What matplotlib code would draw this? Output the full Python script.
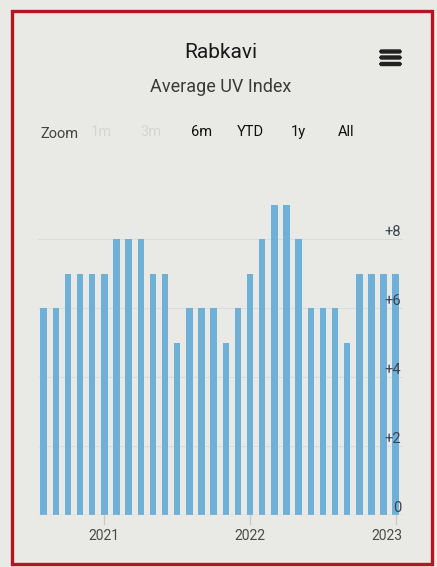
import matplotlib
matplotlib.use("Agg")
import matplotlib.pyplot as plt
from matplotlib.patches import Rectangle, FancyBboxPatch
from matplotlib.transforms import offset_copy, blended_transform_factory

# ---- data ----
months = ["2020-08", "2020-09", "2020-10", "2020-11", "2020-12",
          "2021-01", "2021-02", "2021-03", "2021-04", "2021-05", "2021-06",
          "2021-07", "2021-08", "2021-09", "2021-10", "2021-11", "2021-12",
          "2022-01", "2022-02", "2022-03", "2022-04", "2022-05", "2022-06",
          "2022-07", "2022-08", "2022-09", "2022-10", "2022-11", "2022-12",
          "2023-01"]
uv_values = [6, 6, 7, 7, 7, 7, 8, 8, 8, 7, 7, 5, 6, 6, 6, 5, 6, 7, 8, 9,
             9, 8, 6, 6, 6, 5, 7, 7, 7, 7]
year_labels = ["2021", "2022", "2023"]
year_months = ["2021-01", "2022-01", "2023-01"]
y_ticks = [0, 2, 4, 6, 8]
y_tick_labels = ["0", "+2", "+4", "+6", "+8"]
zoom_buttons = ["1m", "3m", "6m", "YTD", "1y", "All"]

title = "Rabkavi"
subtitle = "Average UV Index"

plt.rcParams['font.family'] = ['Roboto', 'DejaVu Sans']

W, H = 437, 567
fig = plt.figure(figsize=(W / 100, H / 100), dpi=100)
bg = "#e9e9e5"
fig.patch.set_facecolor(bg)

# red card border
fig.add_artist(Rectangle((11.5 / W, 1 - 564 / H), (432 - 11.5) / W, (564 - 10.5) / H,
                         transform=fig.transFigure, fill=False,
                         edgecolor="#b3161e", linewidth=2.4))

# plot area
left_px, right_px = 37.6, 403
bottom_px, top_px = 515, 177
ax = fig.add_axes([left_px / W, 1 - bottom_px / H, (right_px - left_px) / W,
                   (bottom_px - top_px) / H])
ax.set_facecolor("none")

x = list(range(len(months)))
ax.bar(x, uv_values, width=0.53, color="#6eb0d8", zorder=2)
ax.set_xlim(-0.5, len(months) - 1 + 0.6)
ax.set_ylim(0, 9.8)

for s in ax.spines.values():
    s.set_visible(False)
ax.set_xticks([])
ax.set_yticks([])

# gridlines
for yt in y_ticks[1:]:
    ax.axhline(yt, color="#dcdcd8", lw=0.8, zorder=1)
ax.axhline(0, color="#c8c8c4", lw=1.0, zorder=3)

# y labels inside right edge, slightly above grid line
trans_y = blended_transform_factory(ax.transAxes, ax.transData)
for yt, lab in zip(y_ticks, y_tick_labels):
    ax.text(0.995, yt, lab, transform=offset_copy(trans_y, fig=fig, x=0, y=7, units='dots'),
            ha='right', va='center', fontsize=10.5, color="#3d4250", zorder=4)

# x year labels + ticks
for lab, m in zip(year_labels, year_months):
    xi = months.index(m)
    ax.plot([xi, xi], [0, -0.25], color="#c8c8c4", lw=0.9, clip_on=False)
    ha = 'center'
    xt = xi
    if lab == year_labels[-1]:
        ha = 'right'
        xt = ax.get_xlim()[1] - 0.05
    ax.text(xt, -0.62, lab, ha=ha, va='center', fontsize=10, color="#4a4a4a")

# titles
fig.text(221 / W, 1 - 53 / H, title, ha='center', va='center', fontsize=15,
         color="#1a1a1a")
fig.text(221 / W, 1 - 87 / H, subtitle, ha='center', va='center', fontsize=13, color="#3a3a3a")

# zoom buttons
fig.text(40 / W, 1 - 134 / H, "Zoom", ha='left', va='center', fontsize=10.5, color="#444444")
btn_x = [101, 151, 202, 250, 298, 346]
for bx, lab in zip(btn_x, zoom_buttons):
    col = "#d6d6d2" if lab in ("1m", "3m") else "#111111"
    fig.text(bx / W, 1 - 132 / H, lab, ha='center', va='center', fontsize=10.5,
             color=col)

# hamburger menu icon
for yy in (51.5, 57.5, 64):
    fig.add_artist(FancyBboxPatch((380 / W, 1 - (yy + 1.5) / H), 21 / W, 3.0 / H,
                                  boxstyle="round,pad=0,rounding_size=0.003",
                                  transform=fig.transFigure, color="#222222"))

fig.savefig("out.png", dpi=100, facecolor=fig.get_facecolor())
